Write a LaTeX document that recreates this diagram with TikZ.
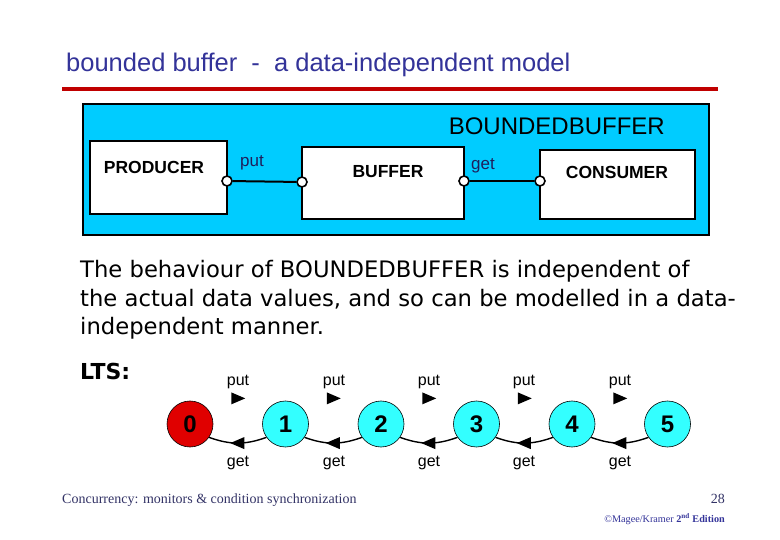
\documentclass[tikz,border=0pt]{standalone}
\usepackage{fontspec}
\setmainfont{Liberation Sans}
\newfontfamily\serifx{Liberation Serif}
\newfontfamily\comicx{DejaVu Sans}
\usetikzlibrary{decorations.markings}
\definecolor{titleblue}{HTML}{333399}
\definecolor{linered}{HTML}{C00000}
\definecolor{boxcyan}{HTML}{00CCFF}
\definecolor{statecyan}{HTML}{33FFFF}
\definecolor{statered}{HTML}{E00000}
\definecolor{footblue}{HTML}{333366}
\tikzset{
  procbox/.style={draw=black, fill=white, line width=2pt, inner sep=0pt},
  proclabel/.style={font=\fontsize{17.5}{20}\selectfont\bfseries, inner sep=0pt},
  portc/.style={circle, draw=black, fill=white, line width=1.6pt, minimum size=10pt, inner sep=0pt},
  link/.style={line width=2pt},
  actlabel/.style={font=\fontsize{17}{20}\selectfont, text=titleblue!60!black, inner sep=0pt},
  state/.style={circle, draw=black, line width=0.6pt, minimum size=46pt, inner sep=0pt, fill=statecyan, font=\fontsize{24}{26}\selectfont\bfseries},
  ltslabel/.style={font=\fontsize{16}{18}\selectfont, inner sep=0pt},
  tri/.style={decoration={markings, mark=at position 0.5 with {\fill[black] (-6.5,6) -- (7.5,0) -- (-6.5,-6) -- cycle;}}, postaction={decorate}},
  para/.style={font=\comicx\fontsize{22.7}{26}\selectfont, anchor=base west, inner sep=0pt},
}
\begin{document}
\begin{tikzpicture}[x=1pt,y=1pt]
\path[use as bounding box, fill=white] (0,0) rectangle (780,-540);
% title
\node[anchor=base west, inner sep=0pt, text=titleblue, font=\fontsize{25.5}{28}\selectfont] (title) at (66,-72) {bounded buffer\ \ -\ \ a data-independent model};
\fill[linered] (62,-87) rectangle (718,-91);
% composite box
\draw[fill=boxcyan, line width=2pt] (83,-104) rectangle (709,-235);
\node[anchor=base east, inner sep=0pt, font=\fontsize{24}{26}\selectfont] (bbl) at (665,-135) {BOUNDEDBUFFER};
\node[procbox, minimum width=137pt, minimum height=73pt] (prod) at (158.5,-177.5) {};
\node[procbox, minimum width=162pt, minimum height=72pt] (buf) at (383,-183) {};
\node[procbox, minimum width=155pt, minimum height=69pt] (cons) at (617.5,-184.5) {};
\node[proclabel] (prodl) at (154,-167) {PRODUCER};
\node[proclabel] (bufl) at (388,-172) {BUFFER};
\node[proclabel] (consl) at (617,-172) {CONSUMER};
\node[portc] (p1) at (227,-181) {};
\node[portc] (p2) at (302,-182) {};
\node[portc] (p3) at (464,-181) {};
\node[portc] (p4) at (540,-181) {};
\draw[link] (p1) -- (p2);
\draw[link] (p3) -- (p4);
\node[actlabel] (putl) at (252,-163) {put};
\node[actlabel] (getl) at (483,-166) {get};
% paragraph
\node[para] (t1) at (80,-278) {The behaviour of BOUNDEDBUFFER is independent of};
\node[para] (t2) at (80,-307) {the actual data values, and so can be modelled in a data-};
\node[para] (t3) at (80,-335) {independent manner.};
\node[para, font=\comicx\bfseries\fontsize{22}{26}\selectfont] (lts) at (80,-380) {LTS:};
% LTS
\node[state, fill=statered] (s0) at (190,-424) {0};
\node[state] (s1) at (285.5,-424) {1};
\node[state] (s2) at (381,-424) {2};
\node[state] (s3) at (476.5,-424) {3};
\node[state] (s4) at (572,-424) {4};
\node[state] (s5) at (667.5,-424) {5};
\foreach \a/\b/\x in {s0/s1/238, s1/s2/334, s2/s3/429, s3/s4/524, s4/s5/620} {
  \path[tri] (\a.45) to[out=30,in=150] (\b.135);
  \draw[line width=1.4pt, tri] (\b.215) to[out=200,in=-20] (\a.-35);
  \node[ltslabel] at (\x,-382) {put};
  \node[ltslabel] at (\x,-463) {get};
}
% footer
\node[anchor=base west, inner sep=0pt, text=footblue, font=\serifx\fontsize{14}{16}\selectfont] (foot) at (62,-503) {Concurrency: monitors \& condition synchronization};
\node[anchor=base east, inner sep=0pt, text=footblue, font=\serifx\fontsize{14}{16}\selectfont] (page) at (725,-503) {28};
\node[anchor=base east, inner sep=0pt, text=titleblue, font=\serifx\fontsize{10.2}{12}\selectfont] (copy) at (725,-522) {\textcopyright Magee/Kramer \textbf{2\textsuperscript{nd} Edition}};
\end{tikzpicture}
\end{document}
